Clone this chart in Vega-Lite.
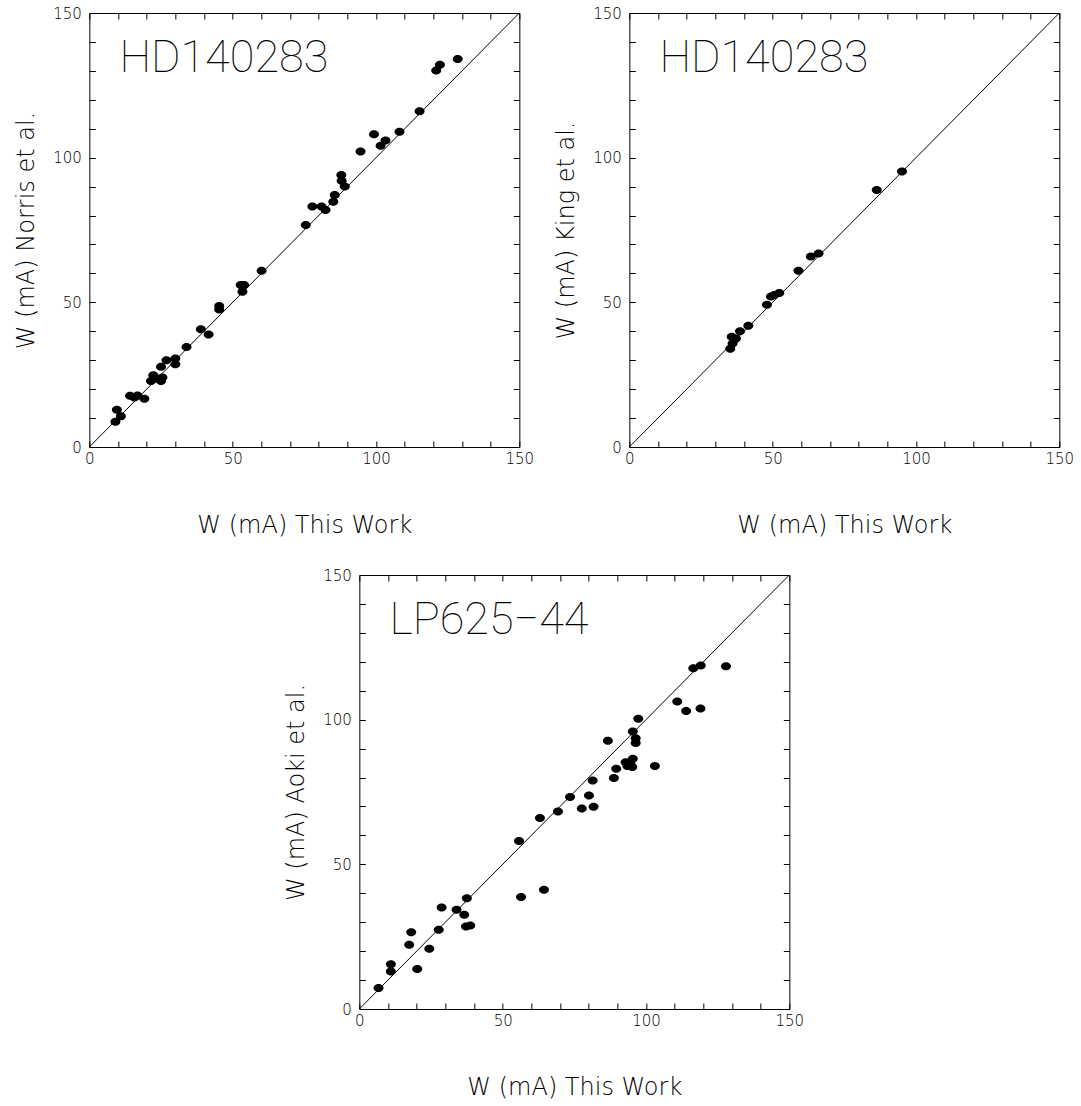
{
  "$schema": "https://vega.github.io/schema/vega-lite/v6.json",
  "padding": {"left": 14, "top": 6, "right": 0, "bottom": 0},
  "background": "white",
  "config": {
    "view": {"stroke": null},
    "axis": {
      "grid": false,
      "domainColor": "black",
      "domainWidth": 1,
      "tickColor": "black",
      "tickWidth": 1,
      "tickSize": -6,
      "labelFont": "DejaVu Sans",
      "labelFontSize": 15,
      "labelFontWeight": 200,
      "labelColor": "black",
      "labelOverlap": false,
      "labelFlush": false,
      "labelBound": false,
      "titleFont": "DejaVu Sans",
      "titleFontSize": 24,
      "titleFontWeight": 200,
      "titleColor": "black"
    }
  },
  "vconcat": [
    {
      "hconcat": [
        {
          "width": 430,
          "height": 434,
          "layer": [
            {
              "data": {"values": [
                {"this": 9.1, "other": 8.7}, {"this": 9.6, "other": 12.9}, {"this": 11.0, "other": 10.6},
                {"this": 14.2, "other": 17.7}, {"this": 15.7, "other": 17.1}, {"this": 16.8, "other": 17.8},
                {"this": 19.2, "other": 16.7}, {"this": 21.5, "other": 22.8}, {"this": 22.3, "other": 24.8},
                {"this": 23.5, "other": 23.7}, {"this": 25.0, "other": 22.8}, {"this": 25.5, "other": 24.0},
                {"this": 25.0, "other": 27.7}, {"this": 26.9, "other": 30.0}, {"this": 30.0, "other": 30.6},
                {"this": 30.0, "other": 28.6}, {"this": 33.9, "other": 34.6}, {"this": 38.9, "other": 40.7},
                {"this": 41.6, "other": 38.9}, {"this": 45.3, "other": 48.7}, {"this": 45.3, "other": 47.5},
                {"this": 52.8, "other": 56.0}, {"this": 54.0, "other": 56.0}, {"this": 53.4, "other": 53.7},
                {"this": 60.1, "other": 60.9}, {"this": 75.5, "other": 76.7}, {"this": 77.8, "other": 83.1},
                {"this": 81.0, "other": 83.1}, {"this": 82.4, "other": 81.9}, {"this": 85.1, "other": 84.8},
                {"this": 85.6, "other": 87.1}, {"this": 87.9, "other": 94.0}, {"this": 88.0, "other": 92.0},
                {"this": 89.1, "other": 90.0}, {"this": 94.6, "other": 102.1}, {"this": 99.3, "other": 108.1},
                {"this": 101.6, "other": 104.1}, {"this": 103.3, "other": 105.9}, {"this": 108.2, "other": 109.0},
                {"this": 115.2, "other": 116.0}, {"this": 121.0, "other": 130.1}, {"this": 122.3, "other": 132.1},
                {"this": 128.5, "other": 134.1}
              ]},
              "mark": {"type": "point", "filled": true, "color": "black", "opacity": 1, "size": 100,
                       "shape": "M -1 0 A 1 0.8 0 1 1 1 0 A 1 0.8 0 1 1 -1 0 Z"},
              "encoding": {
                "x": {"field": "this", "type": "quantitative",
                      "scale": {"domain": [0, 150], "nice": false},
                      "axis": {"orient": "bottom", "title": "W (mA) This Work",
                               "values": [0,10,20,30,40,50,60,70,80,90,100,110,120,130,140,150],
                               "labelExpr": "datum.value % 50 === 0 ? datum.label : ''",
                               "labelPadding": 10, "titlePadding": 47}},
                "y": {"field": "other", "type": "quantitative",
                      "scale": {"domain": [0, 150], "nice": false},
                      "axis": {"orient": "left", "title": "W (mA) Norris et al.",
                               "values": [0,10,20,30,40,50,60,70,80,90,100,110,120,130,140,150],
                               "labelExpr": "datum.value % 50 === 0 ? datum.label : ''",
                               "labelPadding": 14, "titlePadding": 14}}
              }
            },
            {
              "data": {"values": [{}]},
              "mark": {"type": "rule", "color": "black", "strokeWidth": 1},
              "encoding": {
                "x": {"datum": 0, "type": "quantitative",
                      "axis": {"orient": "top", "title": null, "labels": false,
                               "values": [0,10,20,30,40,50,60,70,80,90,100,110,120,130,140,150]}},
                "y": {"datum": 0, "type": "quantitative",
                      "axis": {"orient": "right", "title": null, "labels": false,
                               "values": [0,10,20,30,40,50,60,70,80,90,100,110,120,130,140,150]}},
                "x2": {"datum": 150},
                "y2": {"datum": 150}
              }
            },
            {
              "data": {"values": [{}]},
              "mark": {"type": "text", "align": "left", "baseline": "alphabetic", "font": "DejaVu Sans ExtraLight, Roboto",
                       "fontSize": 45, "fontWeight": 100, "color": "black"},
              "encoding": {
                "x": {"datum": 10.5, "type": "quantitative", "axis": null},
                "y": {"datum": 129.7, "type": "quantitative", "axis": null},
                "text": {"value": "HD140283"}
              }
            }
          ],
          "resolve": {"axis": {"x": "independent", "y": "independent"}}
        },
        {
          "width": 430,
          "height": 434,
          "layer": [
            {
              "data": {"values": [
                {"this": 35.2, "other": 34.0}, {"this": 36.0, "other": 35.8}, {"this": 36.7, "other": 37.2},
                {"this": 35.7, "other": 38.1}, {"this": 37.2, "other": 37.5}, {"this": 38.6, "other": 40.0},
                {"this": 41.5, "other": 41.9}, {"this": 48.0, "other": 49.2}, {"this": 49.4, "other": 52.0},
                {"this": 50.6, "other": 52.5}, {"this": 52.3, "other": 53.2}, {"this": 59.0, "other": 60.9},
                {"this": 63.3, "other": 65.8}, {"this": 66.0, "other": 66.9}, {"this": 86.3, "other": 88.8},
                {"this": 95.1, "other": 95.2}
              ]},
              "mark": {"type": "point", "filled": true, "color": "black", "opacity": 1, "size": 100,
                       "shape": "M -1 0 A 1 0.8 0 1 1 1 0 A 1 0.8 0 1 1 -1 0 Z"},
              "encoding": {
                "x": {"field": "this", "type": "quantitative",
                      "scale": {"domain": [0, 150], "nice": false},
                      "axis": {"orient": "bottom", "title": "W (mA) This Work",
                               "values": [0,10,20,30,40,50,60,70,80,90,100,110,120,130,140,150],
                               "labelExpr": "datum.value % 50 === 0 ? datum.label : ''",
                               "labelPadding": 10, "titlePadding": 47}},
                "y": {"field": "other", "type": "quantitative",
                      "scale": {"domain": [0, 150], "nice": false},
                      "axis": {"orient": "left", "title": "W (mA) King et al.",
                               "values": [0,10,20,30,40,50,60,70,80,90,100,110,120,130,140,150],
                               "labelExpr": "datum.value % 50 === 0 ? datum.label : ''",
                               "labelPadding": 14, "titlePadding": 14}}
              }
            },
            {
              "data": {"values": [{}]},
              "mark": {"type": "rule", "color": "black", "strokeWidth": 1},
              "encoding": {
                "x": {"datum": 0, "type": "quantitative",
                      "axis": {"orient": "top", "title": null, "labels": false,
                               "values": [0,10,20,30,40,50,60,70,80,90,100,110,120,130,140,150]}},
                "y": {"datum": 0, "type": "quantitative",
                      "axis": {"orient": "right", "title": null, "labels": false,
                               "values": [0,10,20,30,40,50,60,70,80,90,100,110,120,130,140,150]}},
                "x2": {"datum": 150},
                "y2": {"datum": 150}
              }
            },
            {
              "data": {"values": [{}]},
              "mark": {"type": "text", "align": "left", "baseline": "alphabetic", "font": "DejaVu Sans ExtraLight, Roboto",
                       "fontSize": 45, "fontWeight": 100, "color": "black"},
              "encoding": {
                "x": {"datum": 10.5, "type": "quantitative", "axis": null},
                "y": {"datum": 129.7, "type": "quantitative", "axis": null},
                "text": {"value": "HD140283"}
              }
            }
          ],
          "resolve": {"axis": {"x": "independent", "y": "independent"}}
        }
      ],
      "spacing": 20
    },
    {
      "width": 430,
      "height": 434,
      "layer": [
        {
          "data": {"values": [
            {"this": 6.7, "other": 7.3}, {"this": 11.0, "other": 15.5}, {"this": 11.0, "other": 13.0},
            {"this": 20.2, "other": 13.8}, {"this": 17.4, "other": 22.2}, {"this": 18.1, "other": 26.5},
            {"this": 24.4, "other": 20.8}, {"this": 27.7, "other": 27.4}, {"this": 28.7, "other": 35.1},
            {"this": 33.9, "other": 34.3}, {"this": 36.6, "other": 32.6}, {"this": 37.5, "other": 38.3},
            {"this": 37.2, "other": 28.5}, {"this": 38.7, "other": 28.9}, {"this": 55.7, "other": 58.1},
            {"this": 56.4, "other": 38.7}, {"this": 64.4, "other": 41.2}, {"this": 63.0, "other": 66.0},
            {"this": 69.3, "other": 68.3}, {"this": 73.5, "other": 73.3}, {"this": 77.6, "other": 69.3},
            {"this": 80.1, "other": 73.8}, {"this": 81.7, "other": 69.9}, {"this": 81.4, "other": 79.0},
            {"this": 86.7, "other": 92.7}, {"this": 88.8, "other": 79.8}, {"this": 89.6, "other": 83.0},
            {"this": 92.9, "other": 85.3}, {"this": 93.5, "other": 84.0}, {"this": 95.4, "other": 86.5},
            {"this": 95.2, "other": 83.6}, {"this": 94.6, "other": 84.6}, {"this": 95.4, "other": 95.9},
            {"this": 96.4, "other": 93.6}, {"this": 96.4, "other": 91.9}, {"this": 97.3, "other": 100.3},
            {"this": 103.1, "other": 84.0}, {"this": 110.9, "other": 106.3}, {"this": 114.0, "other": 103.0},
            {"this": 119.0, "other": 103.9}, {"this": 116.5, "other": 117.8}, {"this": 119.1, "other": 118.7},
            {"this": 127.9, "other": 118.5}
          ]},
          "mark": {"type": "point", "filled": true, "color": "black", "opacity": 1, "size": 100,
                   "shape": "M -1 0 A 1 0.8 0 1 1 1 0 A 1 0.8 0 1 1 -1 0 Z"},
          "encoding": {
            "x": {"field": "this", "type": "quantitative",
                  "scale": {"domain": [0, 150], "nice": false},
                  "axis": {"orient": "bottom", "title": "W (mA) This Work",
                           "values": [0,10,20,30,40,50,60,70,80,90,100,110,120,130,140,150],
                           "labelExpr": "datum.value % 50 === 0 ? datum.label : ''",
                           "labelPadding": 10, "titlePadding": 47}},
            "y": {"field": "other", "type": "quantitative",
                  "scale": {"domain": [0, 150], "nice": false},
                  "axis": {"orient": "left", "title": "W (mA) Aoki et al.",
                           "values": [0,10,20,30,40,50,60,70,80,90,100,110,120,130,140,150],
                           "labelExpr": "datum.value % 50 === 0 ? datum.label : ''",
                           "labelPadding": 14, "titlePadding": 14}}
          }
        },
        {
          "data": {"values": [{}]},
          "mark": {"type": "rule", "color": "black", "strokeWidth": 1},
          "encoding": {
            "x": {"datum": 0, "type": "quantitative",
                  "axis": {"orient": "top", "title": null, "labels": false,
                           "values": [0,10,20,30,40,50,60,70,80,90,100,110,120,130,140,150]}},
            "y": {"datum": 0, "type": "quantitative",
                  "axis": {"orient": "right", "title": null, "labels": false,
                           "values": [0,10,20,30,40,50,60,70,80,90,100,110,120,130,140,150]}},
            "x2": {"datum": 150},
            "y2": {"datum": 150}
          }
        },
        {
          "data": {"values": [{}]},
          "mark": {"type": "text", "align": "left", "baseline": "alphabetic", "font": "DejaVu Sans ExtraLight, Roboto",
                   "fontSize": 45, "fontWeight": 100, "color": "black"},
          "encoding": {
            "x": {"datum": 10.5, "type": "quantitative", "axis": null},
            "y": {"datum": 129.5, "type": "quantitative", "axis": null},
            "text": {"value": "LP625−44"}
          }
        }
      ],
      "resolve": {"axis": {"x": "independent", "y": "independent"}}
    }
  ],
  "spacing": 31,
  "center": true
}
